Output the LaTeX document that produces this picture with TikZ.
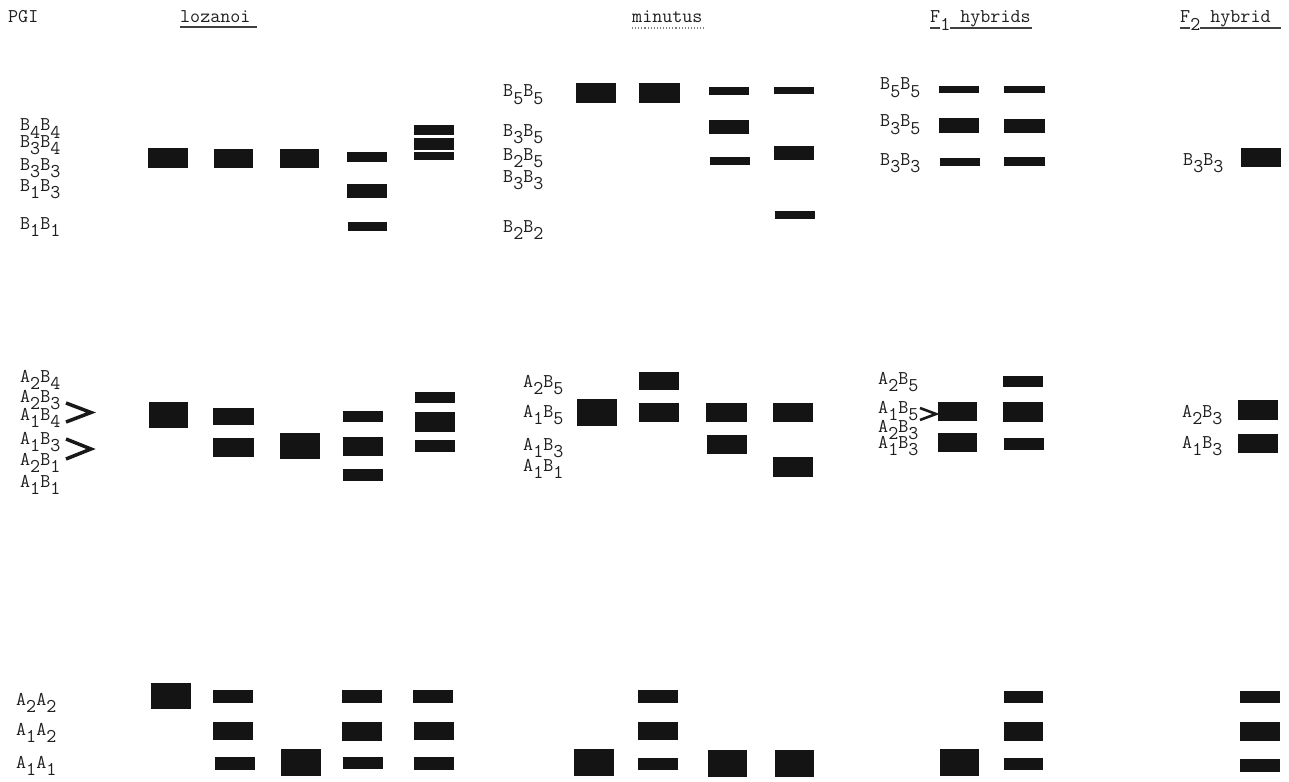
\documentclass[tikz,border=0pt]{standalone}
\usepackage{fontspec}
\newcommand\subdn[1]{\raisebox{-7.5pt}{#1}}
\newcommand\band[4]{\fill[band] (#1,#3) rectangle (#2,#4);}
\begin{document}
\begin{tikzpicture}[x=1pt,y=-1pt,
  band/.style={fill=black!92},
  lbl/.style={anchor=base west,inner sep=0pt,text=black!88,font=\fontsize{19.5}{19.5}\selectfont\ttfamily},
  uline/.style={line width=1.1pt,black!75},
  chev/.style={line width=3.5pt,black!90}]
\useasboundingbox (0,0) rectangle (1289,781);
% headers
\node[lbl] (pgi) at (8,23) {PGI};
\node[lbl] (hloz) at (180,23) {lozanoi};
\draw[uline] (180,27) -- (257,27);
\node[lbl] (hmin) at (632,23) {minutus};
\draw[uline,black!50,dotted] (632,28) -- (706,28);
\node[lbl] (hf1) at (930,23) {F\subdn{1} hybrids};
\draw[uline] (930,28) -- (940,28) (950,28) -- (1032,28);
\node[lbl] (hf2) at (1180,23) {F\subdn{2} hybrid};
\draw[uline] (1180,28) -- (1190,28) (1200,28) -- (1281,28);
% ---------- top row labels
\node[lbl] (t1) at (20,131) {B\subdn{4}B\subdn{4}};
\node[lbl] (t2) at (20,147) {B\subdn{3}B\subdn{4}};
\node[lbl] (t3) at (20,170) {B\subdn{3}B\subdn{3}};
\node[lbl] (t4) at (20,191) {B\subdn{1}B\subdn{3}};
\node[lbl] (t5) at (20,229) {B\subdn{1}B\subdn{1}};
\node[lbl] (tm1) at (503,97) {B\subdn{5}B\subdn{5}};
\node[lbl] (tm2) at (503,136) {B\subdn{3}B\subdn{5}};
\node[lbl] (tm3) at (503,160) {B\subdn{2}B\subdn{5}};
\node[lbl] (tm4) at (503,182) {B\subdn{3}B\subdn{3}};
\node[lbl] (tm5) at (503,232) {B\subdn{2}B\subdn{2}};
\node[lbl] (tf1) at (880,90) {B\subdn{5}B\subdn{5}};
\node[lbl] (tf2) at (880,127) {B\subdn{3}B\subdn{5}};
\node[lbl] (tf3) at (880,165) {B\subdn{3}B\subdn{3}};
\node[lbl] (tg1) at (1183,165) {B\subdn{3}B\subdn{3}};
% top row bands
\band{148}{188}{148}{168}
\band{214}{253}{149}{168}
\band{280}{319}{149}{168}
\band{347}{387}{152}{162}
\band{347}{387}{184}{198}
\band{348}{387}{222}{231}
\band{414}{454}{125}{135}
\band{414}{454}{138}{150}
\band{414}{454}{152}{160}
\band{576}{616}{83}{103}
\band{639}{680}{83}{103}
\band{709}{749}{87}{95}
\band{709}{749}{120}{134}
\band{710}{750}{157}{165}
\band{774}{814}{87}{94}
\band{774}{814}{146}{160}
\band{775}{815}{211}{219}
\band{939}{979}{86}{93}
\band{939}{979}{118}{133}
\band{940}{980}{158}{166}
\band{1004}{1045}{86}{93}
\band{1004}{1045}{119}{133}
\band{1004}{1045}{157}{166}
\band{1241}{1281}{148}{167}
% ---------- middle row labels
\node[lbl] (m1) at (20,382) {A\subdn{2}B\subdn{4}};
\node[lbl] (m2) at (20,402) {A\subdn{2}B\subdn{3}};
\node[lbl] (m3) at (20,420) {A\subdn{1}B\subdn{4}};
\node[lbl] (m4) at (20,444) {A\subdn{1}B\subdn{3}};
\node[lbl] (m5) at (20,465) {A\subdn{2}B\subdn{1}};
\node[lbl] (m6) at (20,487) {A\subdn{1}B\subdn{1}};
\node[lbl] (mm1) at (523,387) {A\subdn{2}B\subdn{5}};
\node[lbl] (mm2) at (523,417) {A\subdn{1}B\subdn{5}};
\node[lbl] (mm3) at (523,450) {A\subdn{1}B\subdn{3}};
\node[lbl] (mm4) at (523,471) {A\subdn{1}B\subdn{1}};
\node[lbl] (mf1) at (878,384) {A\subdn{2}B\subdn{5}};
\node[lbl] (mf2) at (878,413) {A\subdn{1}B\subdn{5}};
\node[lbl] (mf3) at (878,432) {A\subdn{2}B\subdn{3}};
\node[lbl] (mf4) at (878,448) {A\subdn{1}B\subdn{3}};
\node[lbl] (mg1) at (1182,417) {A\subdn{2}B\subdn{3}};
\node[lbl] (mg2) at (1182,448) {A\subdn{1}B\subdn{3}};
\draw[chev] (66,403) -- (91,412.5) -- (66,422);
\draw[chev] (66,439) -- (91,449) -- (66,459);
\draw[chev,line width=2.6pt] (920,408) -- (936,414) -- (920,420);
% middle row bands
\band{149}{188}{402}{428}
\band{213}{254}{408}{425}
\band{213}{254}{438}{457}
\band{280}{320}{433}{459}
\band{343}{383}{411}{422}
\band{343}{383}{437}{456}
\band{343}{383}{469}{481}
\band{415}{455}{392}{403}
\band{415}{455}{412}{432}
\band{415}{455}{440}{452}
\band{577}{617}{399}{426}
\band{639}{679}{372}{390}
\band{639}{679}{403}{422}
\band{706}{747}{403}{422}
\band{707}{747}{435}{454}
\band{773}{813}{403}{422}
\band{773}{813}{457}{477}
\band{938}{977}{402}{421}
\band{938}{977}{433}{452}
\band{1003}{1043}{376}{387}
\band{1003}{1043}{402}{422}
\band{1004}{1044}{438}{450}
\band{1238}{1278}{400}{420}
\band{1238}{1278}{434}{453}
% ---------- bottom row labels
\node[lbl] (b1) at (16,705) {A\subdn{2}A\subdn{2}};
\node[lbl] (b2) at (16,735) {A\subdn{1}A\subdn{2}};
\node[lbl] (b3) at (16,768) {A\subdn{1}A\subdn{1}};
% bottom row bands
\band{151}{191}{683}{709}
\band{213}{253}{690}{703}
\band{213}{253}{722}{740}
\band{215}{255}{757}{770}
\band{281}{321}{749}{776}
\band{342}{382}{690}{703}
\band{342}{382}{722}{741}
\band{343}{383}{757}{769}
\band{413}{453}{690}{703}
\band{414}{454}{722}{740}
\band{414}{454}{757}{770}
\band{574}{614}{749}{776}
\band{638}{678}{690}{703}
\band{638}{678}{722}{740}
\band{638}{678}{758}{770}
\band{708}{747}{750}{777}
\band{775}{814}{750}{777}
\band{940}{979}{749}{776}
\band{1004}{1043}{691}{703}
\band{1004}{1043}{722}{741}
\band{1004}{1043}{758}{770}
\band{1240}{1280}{691}{703}
\band{1240}{1280}{722}{741}
\band{1240}{1280}{759}{772}
\end{tikzpicture}
\end{document}
